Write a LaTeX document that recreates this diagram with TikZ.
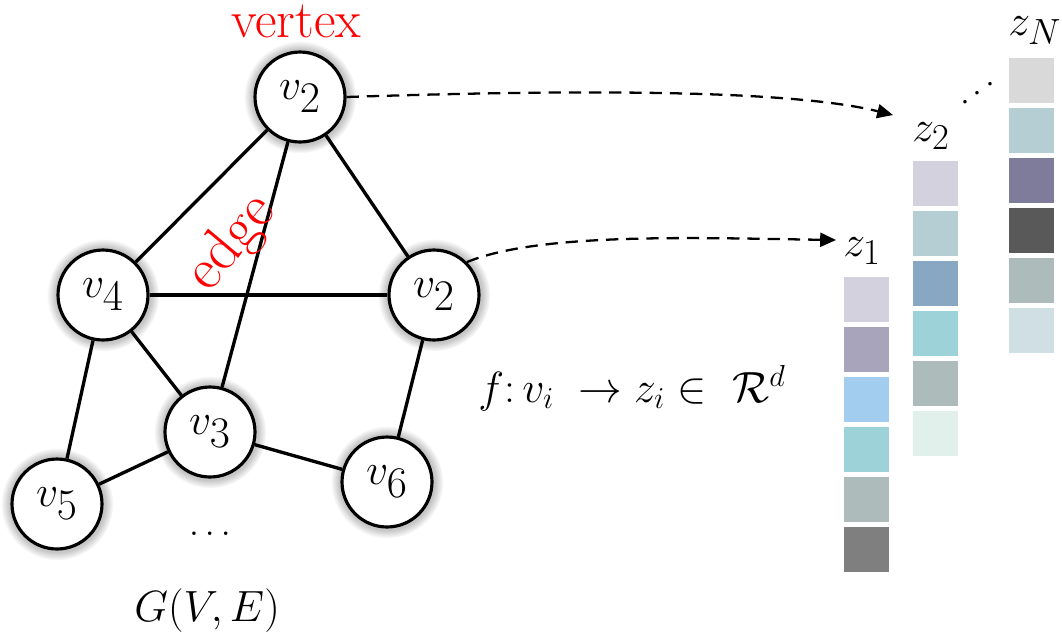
\documentclass[tikz,border=0pt]{standalone}
\usepackage{tikz}
\usetikzlibrary{arrows.meta, shadows}
\definecolor{lilac}{HTML}{D3D1DE}
\definecolor{mauve}{HTML}{A8A4BC}
\definecolor{skyblue}{HTML}{A3CDEE}
\definecolor{aqua}{HTML}{9DD3D8}
\definecolor{sage}{HTML}{AEBBBB}
\definecolor{midgray}{HTML}{7F7F7F}
\definecolor{frost}{HTML}{B5CED3}
\definecolor{steel}{HTML}{87A7C3}
\definecolor{mint}{HTML}{E2F0EC}
\definecolor{silver}{HTML}{D9D9D9}
\definecolor{dusk}{HTML}{7F7B9B}
\definecolor{charcoal}{HTML}{595959}
\definecolor{mist}{HTML}{CFDFE3}

\begin{document}
\begin{tikzpicture}[
    x=0.02cm, y=-0.02cm,
    vertex/.style={circle, draw, line width=1.8pt, fill=white, minimum size=1.8cm, inner sep=0pt,
        circular glow={fill=gray!45}, font=\fontsize{34}{34}\selectfont},
    link/.style={line width=1.9pt},
    embed/.style={dashed, line width=1.3pt, dash pattern=on 7pt off 4.5pt, -{Triangle[length=9pt, width=8pt]}},
    cell/.style={rectangle, minimum width=0.9cm, minimum height=0.9cm, inner sep=0pt, anchor=north west},
    zlabel/.style={anchor=base west, inner sep=0pt, font=\fontsize{32}{32}\selectfont},
    redtext/.style={text=red, inner sep=0pt}
]
\useasboundingbox (0,0) rectangle (1062,637);

% graph
\node[vertex] (vtop) at (300,97) {$v_2$};
\node[vertex] (vleft) at (103,295) {$v_4$};
\node[vertex] (vright) at (434,295) {$v_2$};
\node[vertex] (vmid) at (210,432) {$v_3$};
\node[vertex] (vsix) at (387,482) {$v_6$};
\node[vertex] (vfive) at (57,504) {$v_5$};

\draw[link] (vtop) -- (vleft);
\draw[link] (vtop) -- (vright);
\draw[link] (vtop) -- (vmid);
\draw[link] (vleft) -- (vright);
\draw[link] (vleft) -- (vmid);
\draw[link] (vleft) -- (vfive);
\draw[link] (vright) -- (vsix);
\draw[link] (vmid) -- (vfive);
\draw[link] (vmid) -- (vsix);

\node[redtext, anchor=base, font=\fontsize{30}{30}\selectfont] (vertexlbl) at (296,37) {vertex};
\node[redtext, rotate=50, font=\fontsize{34}{34}\selectfont] (edgelbl) at (232,243) {edge};
\node[font=\fontsize{22}{22}\selectfont] (gdots) at (210,534) {$\dots$};
\node[anchor=base, inner sep=0pt, font=\fontsize{31}{31}\selectfont] (glabel) at (207,621) {$G(V,E)$};

% embeddings
\foreach \c [count=\i] in {lilac, mauve, skyblue, aqua, sage, midgray}
    \node[cell, fill=\c] (za\i) at (844,{277+50*(\i-1)}) {};
\foreach \c [count=\i] in {lilac, frost, steel, aqua, sage, mint}
    \node[cell, fill=\c] (zb\i) at (913,{161+50*(\i-1)}) {};
\foreach \c [count=\i] in {silver, frost, dusk, charcoal, sage, mist}
    \node[cell, fill=\c] (zc\i) at (1009,{58+50*(\i-1)}) {};
\node[zlabel] (zone) at (843,256) {$z_1$};
\node[zlabel] (ztwo) at (912,141) {$z_2$};
\node[zlabel] (zn) at (1008,35) {$z_N$};
\node[rotate=36, font=\fontsize{20}{20}\selectfont] (zdots) at (978,93) {$\dots$};

\coordinate (tiptwo) at (893,115);
\coordinate (tipone) at (836,240);
\draw[embed] (vtop.east) .. controls (620,88) and (800,92) .. (tiptwo);
\draw[embed] (vright.45) .. controls (540,232) and (700,238) .. (tipone);

\node[anchor=base west, inner sep=0pt, font=\fontsize{26}{26}\selectfont] (fmap) at (478,402)
    {$f\colon v_i\;\to z_i\in\ \mathcal{R}^d$};
\end{tikzpicture}
\end{document}
